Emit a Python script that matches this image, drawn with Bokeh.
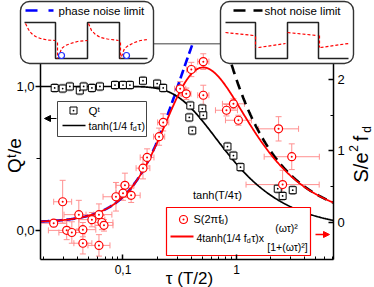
import numpy as np
from bokeh.plotting import figure
from bokeh.models import (Range1d, LinearAxis, LinearScale, FixedTicker, Arrow,
                          NormalHead, Whisker, TeeHead, ColumnDataSource, Span)
from bokeh.core.properties import value
from bokeh.embed import file_html
from bokeh.resources import INLINE

FONT = "Liberation Sans"

# ---------------- data ----------------
# Q^t measurements (left axis)
tau_Q = [0.025, 0.0294, 0.034, 0.0416, 0.045, 0.0532, 0.0626, 0.085, 0.100, 0.115,
         0.150, 0.200, 0.226, 0.384, 0.392, 0.408, 0.50, 0.51, 0.833, 0.94, 1.085,
         2.31, 2.55, 3.13]
Q_meas = [0.99, 0.986, 1.0, 0.972, 1.0, 0.99, 1.0, 1.01, 1.01, 1.01,
          1.04, 1.02, 0.99, 0.785, 0.868, 0.694, 0.847, 0.80, 0.583, 0.52, 0.44,
          0.29, 0.24, 0.28]
Q_err = [0.03] * len(tau_Q)

# S(2 pi f_d) measurements (right axis)
tau_S = [0.0245, 0.0294, 0.0319, 0.0354, 0.0408, 0.0443, 0.0443, 0.0532, 0.0614, 0.0652,
         0.068, 0.0614, 0.0867, 0.104, 0.100, 0.118, 0.150, 0.163, 0.208, 0.226,
         0.319, 0.361, 0.40, 0.51, 0.51, 0.816, 0.94, 1.04, 2.35, 3.07, 2.55]
S_meas = [-0.01, 0.29, -0.11, -0.14, 0.11, -0.10, -0.29, 0.04, 0.11, 0.00,
          -0.04, -0.32, 0.36, 0.52, 0.41, 0.38, 0.76, 0.91, 1.20, 1.40,
          1.87, 1.80, 2.14, 2.25, 1.78, 1.57, 1.66, 1.43, 1.31, 0.92, 0.53]
tau_S_spread = [1.3, 1.2, 1.45, 1.3, 1.35, 1.3, 1.2, 1.3, 1.3, 1.25,
                1.2, 1.25, 1.3, 1.2, 1.15, 1.2, 1.15, 1.15, 1.12, 1.12,
                1.12, 1.1, 1.1, 1.12, 1.12, 1.25, 1.25, 1.3, 1.5, 1.75, 2.1]
S_err = [0.05, 0.30, 0.13, 0.15, 0.20, 0.10, 0.15, 0.10, 0.15, 0.10,
         0.08, 0.15, 0.20, 0.17, 0.10, 0.10, 0.15, 0.12, 0.12, 0.12,
         0.10, 0.08, 0.10, 0.11, 0.14, 0.08, 0.07, 0.07, 0.17, 0.18, 0.20]

x_ticks = [0.1, 1]
x_tick_labels = ["0,1", "1"]
x_minor = [0.02, 0.03, 0.04, 0.05, 0.06, 0.07, 0.08, 0.09,
           0.2, 0.3, 0.4, 0.5, 0.6, 0.7, 0.8, 0.9, 2, 3, 4, 5, 6, 7]
q_ticks = [0, 1]
q_tick_labels = ["0,0", "1,0"]
q_minor = [0.5]
s_ticks = [0, 1, 2]
s_tick_labels = ["0", "1", "2"]
s_minor = [0.5, 1.5]

# inset schematics (sketch coordinates in pixels)
wave1_x = [24, 55, 55, 87, 87, 119, 119, 147]
wave2_x = [225, 255, 255, 287, 287, 318, 318, 348]
wave_y = [22, 22, 58, 58, 22, 22, 58, 58]
red1_xs = [[25, 28, 31, 35, 40, 47, 55], [57, 57], [58, 61, 65, 70, 77, 87],
           [88, 91, 95, 100, 107, 118], [120, 120], [121, 124, 128, 134, 140, 147]]
red1_ys = [[23, 29, 33, 36, 38, 39.5, 40], [42, 58], [57, 48, 45, 43, 41, 40],
           [23, 30, 34, 37, 38.5, 40], [42, 58], [56, 48, 45, 42, 40, 39]]
red2_xs = [[225, 253], [255, 255], [258, 285], [287, 317], [319, 319], [320, 348]]
red2_ys = [[32, 35], [36, 47], [47, 43], [32, 35], [35, 47], [47, 43]]

# ---------------- figure ----------------
W, H = 374, 287
XMIN, XMAX = 10 ** -1.727, 10 ** 0.855
QMIN, QMAX = -0.2014, 1.2986
SMIN, SMAX = -0.5175, 2.5035

p = figure(width=W, height=H, x_axis_type="log",
           x_range=Range1d(XMIN, XMAX), y_range=Range1d(QMIN, QMAX),
           output_backend="svg", toolbar_location=None,
           min_border_left=40, min_border_right=41, min_border_top=43, min_border_bottom=28)
p.extra_y_ranges = {"S": Range1d(SMIN, SMAX), "pgy": Range1d(259, 43)}
p.extra_x_ranges = {"pgx": Range1d(40, 333)}
p.extra_x_scales = {"pgx": LinearScale()}
p.outline_line_color = None
p.xgrid.visible = False
p.ygrid.visible = False
p.background_fill_color = "white"
p.border_fill_color = "white"


def style_axis(ax, tin, tout, mtin, mtout, size="12px", standoff=4):
    ax.axis_line_width = 1.5
    ax.axis_line_color = "black"
    ax.major_tick_line_width = 1.5
    ax.minor_tick_line_width = 1
    ax.major_tick_line_color = "black"
    ax.minor_tick_line_color = "black"
    ax.major_tick_in = tin
    ax.major_tick_out = tout
    ax.minor_tick_in = mtin
    ax.minor_tick_out = mtout
    ax.major_label_text_font = FONT
    ax.major_label_text_font_size = size
    ax.major_label_text_color = "black"
    ax.major_label_standoff = standoff


xa = p.xaxis[0]
xa.ticker = FixedTicker(ticks=x_ticks, minor_ticks=x_minor)
xa.major_label_overrides = dict(zip(x_ticks, x_tick_labels))
style_axis(xa, 5, 0, 3, 0, "12px", 5)

ya = p.yaxis[0]
ya.ticker = FixedTicker(ticks=q_ticks, minor_ticks=q_minor)
ya.major_label_overrides = dict(zip(q_ticks, q_tick_labels))
ya.bounds = (QMIN, QMAX)
style_axis(ya, 0, 5, 0, 4, "13px", 1)

ra = LinearAxis(y_range_name="S", ticker=FixedTicker(ticks=s_ticks, minor_ticks=s_minor))
ra.major_label_overrides = dict(zip(s_ticks, s_tick_labels))
style_axis(ra, 5, 0, 3, 0, "13px", 4)
p.add_layout(ra, "right")

p.add_layout(Span(location=QMAX, dimension="width", line_color="black", line_width=1.5))

# ---------------- error bars ----------------
ERR = "#ff9090"
srcS = ColumnDataSource(dict(
    x=tau_S, y=S_meas,
    xl=[t / f for t, f in zip(tau_S, tau_S_spread)],
    xu=[t * f for t, f in zip(tau_S, tau_S_spread)],
    yl=[s - e for s, e in zip(S_meas, S_err)],
    yu=[s + e for s, e in zip(S_meas, S_err)]))
for dim, base, lo, up in [("height", "x", "yl", "yu"), ("width", "y", "xl", "xu")]:
    p.add_layout(Whisker(source=srcS, base=base, lower=lo, upper=up, dimension=dim,
                         y_range_name="S", line_color=ERR, line_width=1, level="underlay",
                         upper_head=TeeHead(size=6, line_color=ERR, line_width=1),
                         lower_head=TeeHead(size=6, line_color=ERR, line_width=1)))

srcQ = ColumnDataSource(dict(x=tau_Q, y=Q_meas,
                             yl=[q - e for q, e in zip(Q_meas, Q_err)],
                             yu=[q + e for q, e in zip(Q_meas, Q_err)]))
p.add_layout(Whisker(source=srcQ, base="x", lower="yl", upper="yu", dimension="height",
                     line_color="#a0a0a0", line_width=1, level="underlay",
                     upper_head=TeeHead(size=5, line_color="#a0a0a0", line_width=1),
                     lower_head=TeeHead(size=5, line_color="#a0a0a0", line_width=1)))

# ---------------- theory curves (formulas of the legend) ----------------
xs = np.logspace(np.log10(XMIN), np.log10(XMAX), 400)
wt2 = (np.pi * xs) ** 2
Q_th = np.tanh(1 / (2 * xs))
S_th = 4 * np.tanh(1 / (2 * xs)) * wt2 / (1 + wt2)
phase = 4 * wt2 / (1 + wt2)
m_ph = xs < 0.5
m_sh = xs > 0.7

p.line(xs[m_ph], phase[m_ph], y_range_name="S", line_color="#0000ff", line_width=2.6, line_dash="9 4")
p.line(xs[m_sh], 2 / xs[m_sh], y_range_name="S", line_color="black", line_width=2.6, line_dash="10 6")
p.line(xs, Q_th, line_color="black", line_width=1.7)
p.line(xs, S_th, y_range_name="S", line_color="red", line_width=1.8)

p.scatter("x", "y", source=srcQ, marker="square_dot", size=7, line_color="black",
          fill_color="white", line_width=1)
p.scatter("x", "y", source=srcS, y_range_name="S", marker="circle_dot", size=8,
          line_color="red", fill_color="white", line_width=1.2)

PG = dict(x_range_name="pgx", y_range_name="pgy")
OV = dict(level="overlay", **PG)

# ---------------- legend boxes ----------------
p.quad(left=[57], right=[146], top=[101], bottom=[136], fill_color="white",
       line_color="#444444", line_width=1, **PG)
p.scatter([73], [110], marker="square_dot", size=7, line_color="black", fill_color="white", **PG)
p.line([62, 85], [125, 125], line_color="black", line_width=1.7, **PG)
p.add_layout(Arrow(x_start=56, y_start=118, x_end=44, y_end=118, line_color="black", line_width=1.2,
                   end=NormalHead(size=6, fill_color="black", line_color="black"), **PG))

p.quad(left=[166], right=[310], top=[207], bottom=[255], fill_color="white",
       line_color="red", line_width=1.2, **PG)
p.scatter([183], [219], marker="circle_dot", size=8, line_color="red", fill_color="white",
          line_width=1.2, **PG)
p.line([170, 193], [236, 236], line_color="red", line_width=2, **PG)
p.add_layout(Arrow(x_start=315, y_start=234, x_end=329, y_end=234, line_color="red", line_width=1.5,
                   end=NormalHead(size=6, fill_color="red", line_color="red"), **PG))

# ---------------- insets ----------------
for left, right in [(20, 153), (220, 353)]:
    p.quad(left=[left], right=[right], top=[1], bottom=[63], fill_color="white",
           line_color="#333333", line_width=1.4, border_radius=9, **OV)
for wx in (wave1_x, wave2_x):
    p.line(wx, wave_y, line_color="#222222", line_width=1.5, **OV)
p.multi_line(red1_xs + red2_xs, red1_ys + red2_ys,
             line_color="red", line_width=1.2, line_dash="3 2", **OV)
p.scatter([31, 101, 228], [25, 24, 24], marker="circle", size=6,
          fill_color="#101060", line_color="#101060", **OV)
p.scatter([61, 126, 342], [55, 55, 56], marker="circle", size=6,
          fill_color="white", line_color="#2030ff", line_width=1.2, **OV)
p.line([25, 53], [10, 10], line_color="#0000ff", line_width=2.6, line_dash="12 11", **OV)
p.line([233, 262], [10, 10], line_color="black", line_width=2.6, line_dash="12 8", **OV)

# ---------------- texts ----------------


def lab(x, y, text, size=11, color="black", align="left", angle=0.0):
    p.text(x=[x], y=[y], text=[text], text_font=value(FONT), text_font_size=value(f"{size}px"),
           text_color=color, text_align=align, text_baseline="middle", angle=angle, **OV)


AW = {'t': 278, 'a': 556, 'n': 556, 'h': 556, '(': 333, ')': 333, '1': 556, '/': 278,
      '4': 556, ' ': 278, 'f': 278, 'd': 556, 'x': 500, 'S': 667, '2': 556, 'π': 560,
      'τ': 500, 'ω': 700, '[': 278, ']': 278, '+': 584, 'Q': 778, 'e': 556, 'T': 611}


def tw(s, fs):
    return sum(AW.get(c, 556) for c in s) * fs / 1000.0


def sub_text(x, y, pre, post, size=10.5, color="black"):
    lab(x, y, pre, size, color)
    x2 = x + tw(pre, size)
    lab(x2, y + 3, "d", round(size * 0.68, 1), color)
    lab(x2 + tw("d", size * 0.68) + 0.5, y, post, size, color)


lab(88, 110, "Qᵗ", 11.5)
sub_text(88, 125, "tanh(1/4 f", "τ)", 10.5)
sub_text(193, 218, "S(2πf", ")", 11)
sub_text(196, 237, "4tanh(1/4 f", "τ)x", 10.5)
lab(286, 227, "(ωτ)²", 10.5, align="center")
lab(287, 246, "[1+(ωτ)²]", 10.5, align="center")
lab(217, 194, "tanh(T/4τ)", 11, align="center")

lab(58, 10, "phase noise limit", 11.5)
lab(264, 10, "shot noise limit", 11.5)

lab(189, 278, "τ (T/2)", 17, align="center")
lab(14, 155, "Qᵗ/e", 19, align="center", angle=np.pi / 2)
# right axis title  S/e^2 f_d  (rotated, built from pieces)
lab(360, 167, "S/e", 20, align="center", angle=np.pi / 2)
lab(353, 148, "2", 12, align="center", angle=np.pi / 2)
lab(360, 138, "f", 20, align="center", angle=np.pi / 2)
lab(366, 129, "d", 12, align="center", angle=np.pi / 2)

open("out.html", "w").write(file_html(p, INLINE))
